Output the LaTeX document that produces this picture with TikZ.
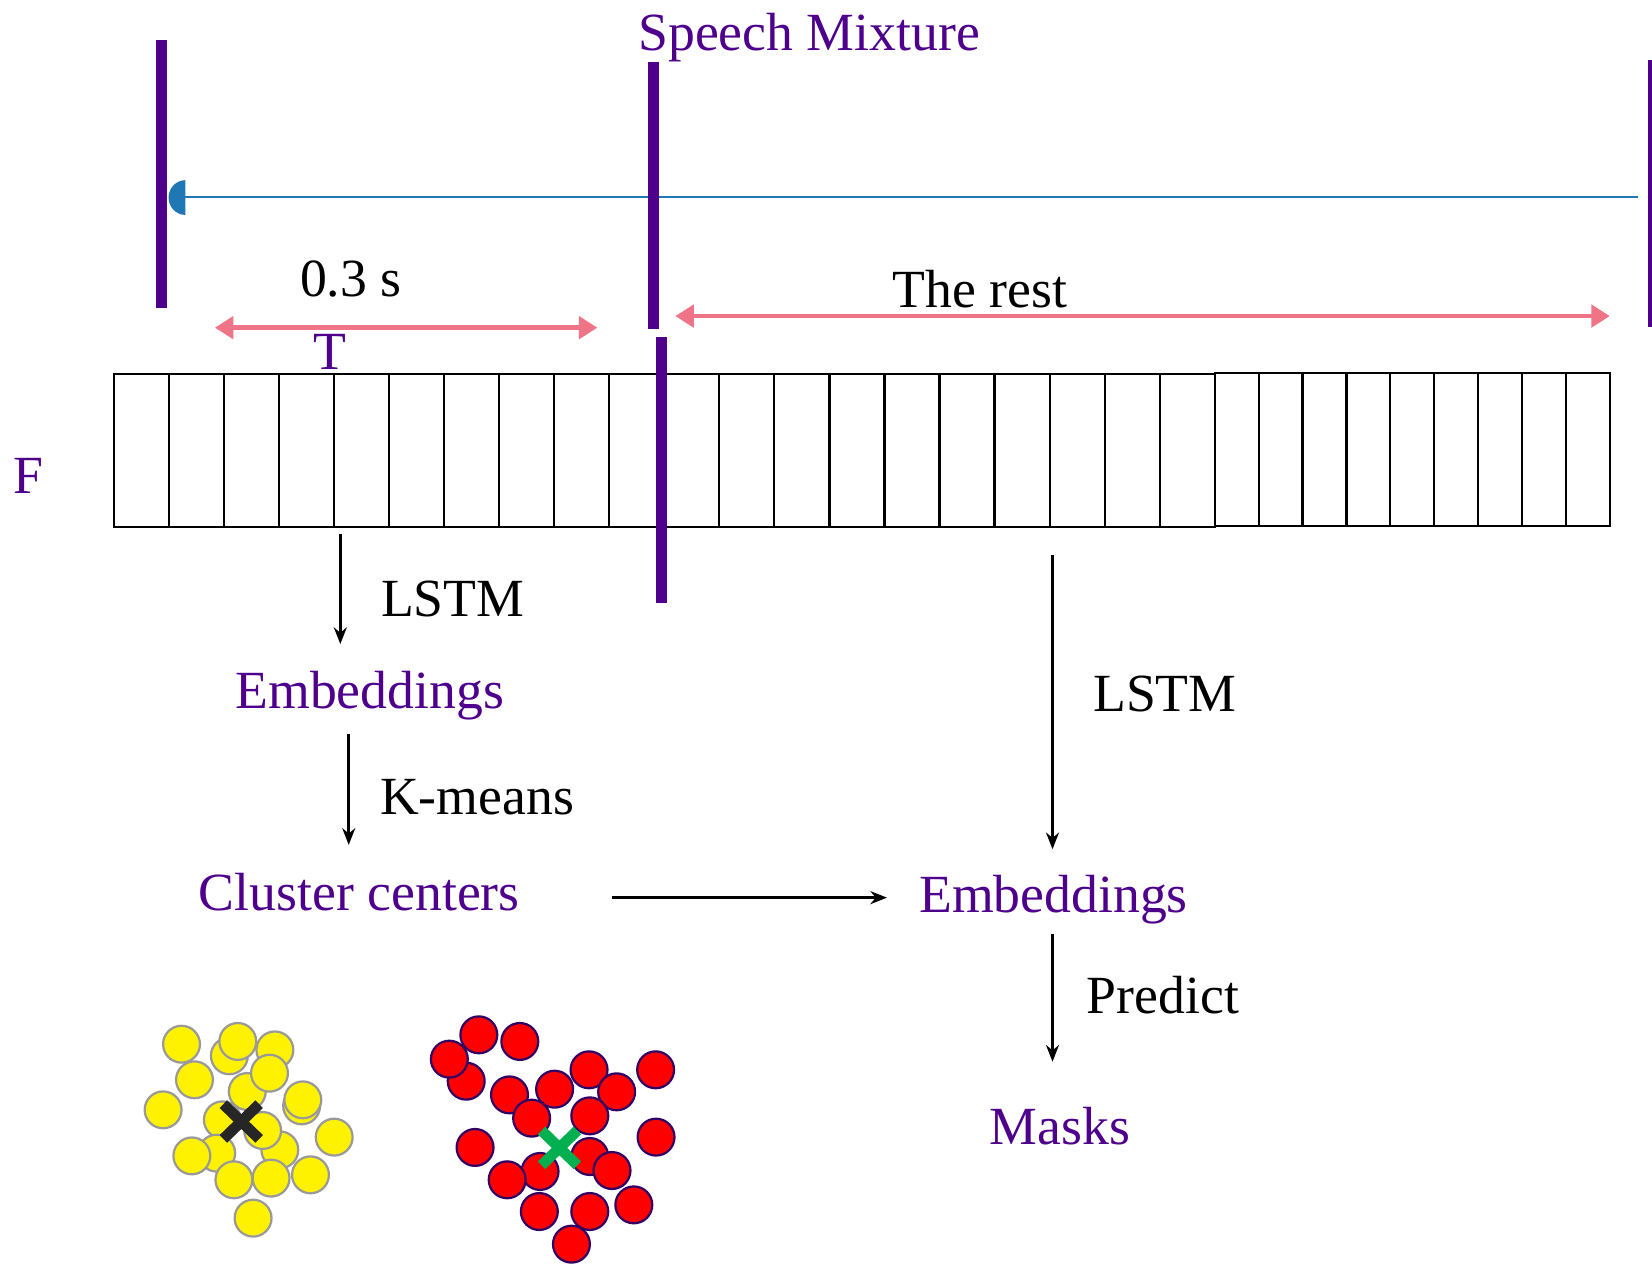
\documentclass[tikz,border=0pt]{standalone}
\usepackage{fontspec}
\setmainfont{Liberation Serif}
\usetikzlibrary{arrows.meta}

\definecolor{mixpurple}{RGB}{78,0,140}
\definecolor{spanpink}{RGB}{240,116,136}
\definecolor{waveblue}{RGB}{31,119,180}
\definecolor{xgreen}{RGB}{0,176,80}
\definecolor{ringpurple}{RGB}{50,0,100}

\tikzset{
  lbl/.style={font=\fontsize{14.5}{17}\selectfont, inner sep=0pt},
  plbl/.style={lbl, text=mixpurple},
  cutbar/.style={mixpurple, line width=2.9pt},
  span/.style={spanpink, line width=1.2pt, {Triangle[length=5pt,width=6pt]}-{Triangle[length=5pt,width=6pt]}},
  flow/.style={-{Stealth[length=4.5pt,width=3.5pt]}, line width=0.7pt},
  cell/.style={line width=0.6pt},
  dotY/.style={fill=yellow, draw=gray!80, line width=0.6pt},
  dotR/.style={fill=red, draw=ringpurple, line width=0.6pt},
  centre/.style={line width=2.9pt},
}

\begin{document}
\begin{tikzpicture}[x=0.01cm, y=-0.01cm]
\useasboundingbox (0,0) rectangle (1568,1199);

% waveform and cut marks
\draw[waveblue, line width=0.4pt] (160,187) -- (1555,187);
\fill[waveblue] (176,171) arc[start angle=270, end angle=90, x radius=16, y radius=16.5] -- cycle;
\draw[cutbar] (153,38) -- (153,292);
\draw[cutbar] (620,59) -- (620,312);
\draw[cutbar] (1569,57) -- (1569,310);

% labels on top
\node[plbl, anchor=base] (title) at (768,48) {Speech Mixture};
\node[lbl, anchor=base] (dur) at (333,281) {0.3 s};
\node[lbl, anchor=base] (rest) at (930,292) {The rest};
\node[plbl, anchor=base] (tlab) at (313,351) {T};
\node[plbl, anchor=base] (flab) at (27,468) {F};

% spans
\coordinate (durL) at (204,311);
\coordinate (durR) at (567,311);
\coordinate (restL) at (641,300);
\coordinate (restR) at (1528,300);
\draw[span] (durL) -- (durR);
\draw[span] (restL) -- (restR);

% spectrogram frames
\foreach \b in {0,...,3} {
  \draw[cell] ({108+\b*261.25},355) rectangle ++(261.25,145);
  \foreach \i in {1,...,4}
    \draw[cell] ({108+\b*261.25+\i*52.25},355) -- ++(0,145);
}
\draw[cell] (1153,354) rectangle (1528,499);
\foreach \i in {1,...,8}
  \draw[cell] ({1153+\i*41.667},354) -- ++(0,145);
\draw[cutbar] (628,320) -- (628,572);

% pipeline
\node[plbl, anchor=base] (emb1) at (351,672) {Embeddings};
\node[plbl, anchor=base] (cc) at (341,864) {Cluster centers};
\node[plbl, anchor=base] (emb2) at (1000,866) {Embeddings};
\node[plbl, anchor=base] (masks) at (1006,1086) {Masks};
\node[lbl, anchor=base west] (lstm1) at (361,585) {LSTM};
\node[lbl, anchor=base west] (kmeans) at (360,773) {K-means};
\node[lbl, anchor=base west] (lstm2) at (1037,675) {LSTM};
\node[lbl, anchor=base west] (pred) at (1031,962) {Predict};

\coordinate (lx) at (323,500);
\coordinate (kx) at (331,0);
\coordinate (rx) at (999,500);
\coordinate (ccOut) at (581,852);
\draw[flow, shorten <=2pt, shorten >=7pt] (lx) -- (lx |- emb1.north);
\draw[flow, shorten <=3.7pt, shorten >=7.4pt] (kx |- emb1.south) -- (kx |- cc.north);
\draw[flow, shorten <=7.7pt, shorten >=6.8pt] (rx) -- (rx |- emb2.north);
\draw[flow, shorten <=2.6pt, shorten >=12pt] (rx |- emb2.south) -- (rx |- masks.north);
\draw[flow, shorten >=8.5pt] (ccOut) -- (ccOut -| emb2.west);

% yellow cluster
\foreach \cx/\cy in {217.7/1002.1, 225.7/988.5, 172.3/991.1, 260.9/996.5, 184.6/1024.9,
  234.7/1036.0, 255.8/1018.6, 154.8/1053.4, 286.3/1049.6, 287.4/1043.9, 211.1/1062.9,
  265.6/1091.4, 249.3/1073.0, 205.7/1094.5, 182.1/1097.1, 317.2/1079.3, 222.0/1119.8,
  257.3/1118.2, 294.7/1115.1, 240.2/1156.2}
  \draw[dotY] (\cx,\cy) circle[radius=17.5];
\draw[centre, black!85] (212,1048) -- (246,1081) (212,1081) -- (246,1048);

% red cluster
\foreach \cx/\cy in {454.5/982.2, 442.5/1026.2, 426.5/1005.3, 493.4/988.5, 559.1/1015.4,
  483.6/1039.2, 585.3/1036.3, 526.4/1033.8, 504.6/1061.3, 559.8/1059.1, 622.3/1015.4,
  450.9/1089.1, 622.7/1079.3, 559.8/1097.7, 512.6/1111.9, 580.9/1111.0, 481.4/1119.8,
  511.9/1149.9, 559.8/1149.9, 601.6/1143.6, 542.4/1180.9}
  \draw[dotR] (\cx,\cy) circle[radius=17.5];
\draw[centre, xgreen] (514,1073) -- (548,1106) (514,1106) -- (548,1073);
\end{tikzpicture}
\end{document}
